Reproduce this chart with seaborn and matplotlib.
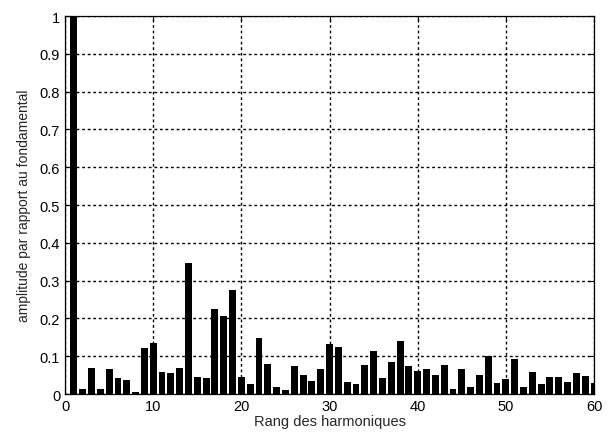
import matplotlib
matplotlib.use("Agg")
import matplotlib.pyplot as plt
import seaborn as sns
import pandas as pd

harmonics = list(range(1, 61))
amplitude = [1.0, 0.012, 0.069, 0.012, 0.067, 0.042, 0.036, 0.005, 0.122, 0.136,
             0.058, 0.055, 0.070, 0.347, 0.046, 0.042, 0.226, 0.207, 0.274, 0.046,
             0.026, 0.147, 0.080, 0.019, 0.011, 0.075, 0.049, 0.034, 0.066, 0.132,
             0.125, 0.031, 0.026, 0.078, 0.114, 0.042, 0.086, 0.139, 0.075, 0.061,
             0.066, 0.049, 0.078, 0.012, 0.066, 0.019, 0.051, 0.100, 0.030, 0.040,
             0.092, 0.019, 0.058, 0.027, 0.044, 0.044, 0.031, 0.055, 0.048, 0.029]
xticks = [0, 10, 20, 30, 40, 50, 60]
yticks = [0, 0.1, 0.2, 0.3, 0.4, 0.5, 0.6, 0.7, 0.8, 0.9, 1]
ytick_labels = ["0", "0.1", "0.2", "0.3", "0.4", "0.5", "0.6", "0.7", "0.8", "0.9", "1"]

df = pd.DataFrame({"h": harmonics, "a": amplitude})

sns.set_style("white")
plt.rcParams['font.family'] = ['Liberation Sans', 'DejaVu Sans']

fig = plt.figure(figsize=(6.08, 4.39), dpi=100)
ax = fig.add_axes([0.107, 0.1002, 0.870, 0.861])
sns.barplot(data=df, x="h", y="a", native_scale=True, color="black",
            width=0.78, saturation=1, ax=ax, linewidth=0)
ax.set_xlim(0, 60)
ax.set_ylim(0, 1)
ax.set_xticks(xticks)
ax.set_xticklabels([str(t) for t in xticks])
ax.set_yticks(yticks)
ax.set_yticklabels(ytick_labels)
ax.grid(True, color="black", linestyle=(0, (2, 2)), linewidth=1.0)
ax.set_axisbelow(True)
ax.tick_params(direction="in", length=4, labelsize=10.5, colors="black", width=0.8,
               top=True, right=True, bottom=True, left=True)
for s in ax.spines.values():
    s.set_visible(True)
    s.set_color("black")
    s.set_linewidth(0.9)
ax.set_xlabel("Rang des harmoniques", fontsize=10.5, labelpad=1)
ax.set_ylabel("amplitude par rapport au fondamental", fontsize=10, labelpad=6)
fig.savefig("out.png", dpi=100)
